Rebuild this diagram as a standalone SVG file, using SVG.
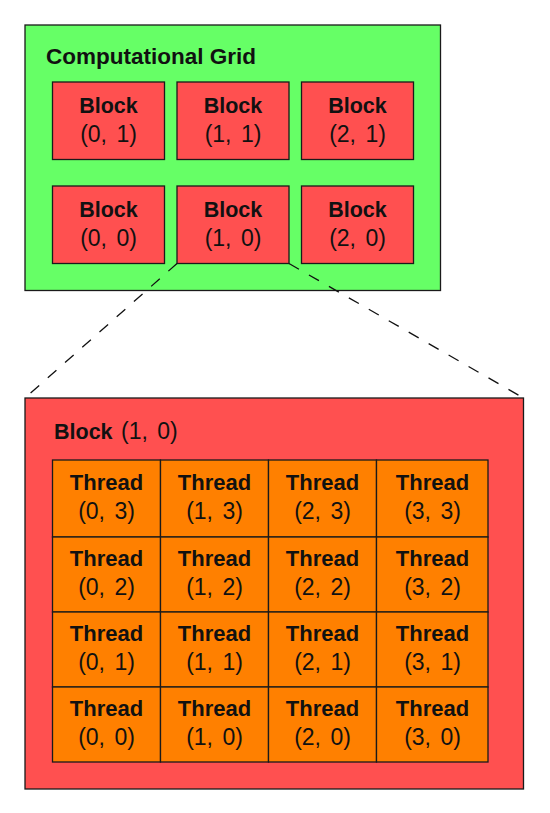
<svg xmlns="http://www.w3.org/2000/svg" width="550" height="813" viewBox="0 0 550 813">
<style>
.box{stroke:#1a1a1a;stroke-width:1.3}
.grid{fill:#66ff66}
.blk{fill:#ff5050}
.thr{fill:#ff8000}
.b{font-family:"Liberation Sans",Arial,sans-serif;font-weight:bold;font-size:21.5px;fill:#111}
.t{font-size:22px}
.h{font-size:22.5px}
.c{font-family:"Liberation Sans",Arial,sans-serif;font-size:23px;word-spacing:3px;fill:#111}
.m{text-anchor:middle}
.dash{fill:none;stroke:#111;stroke-width:1.3;stroke-dasharray:11.5 11.5}
</style>
<rect width="550" height="813" fill="#ffffff"/>
<g id="grid">
<rect class="box grid" x="25" y="25" width="415.5" height="265.5"/>
<text class="b h" x="46" y="64">Computational Grid</text>
</g>
<g id="block-0-1"><rect class="box blk" x="52.5" y="82" width="112" height="77.5"/><text class="b m" x="108.5" y="112.5">Block</text><text class="c m" x="108.5" y="141.5">(0, 1)</text></g>
<g id="block-1-1"><rect class="box blk" x="177" y="82" width="112" height="77.5"/><text class="b m" x="233" y="112.5">Block</text><text class="c m" x="233" y="141.5">(1, 1)</text></g>
<g id="block-2-1"><rect class="box blk" x="301.5" y="82" width="112" height="77.5"/><text class="b m" x="357.5" y="112.5">Block</text><text class="c m" x="357.5" y="141.5">(2, 1)</text></g>
<g id="block-0-0"><rect class="box blk" x="52.5" y="186" width="112" height="77.5"/><text class="b m" x="108.5" y="216.5">Block</text><text class="c m" x="108.5" y="245.5">(0, 0)</text></g>
<g id="block-1-0"><rect class="box blk" x="177" y="186" width="112" height="77.5"/><text class="b m" x="233" y="216.5">Block</text><text class="c m" x="233" y="245.5">(1, 0)</text></g>
<g id="block-2-0"><rect class="box blk" x="301.5" y="186" width="112" height="77.5"/><text class="b m" x="357.5" y="216.5">Block</text><text class="c m" x="357.5" y="245.5">(2, 0)</text></g>
<g id="connectors">
<line class="dash" x1="177" y1="263.5" x2="25" y2="398"/>
<line class="dash" x1="289" y1="263.5" x2="523.5" y2="398"/>
</g>
<g id="block-detail">
<rect class="box blk" x="25" y="398" width="498.5" height="391"/>
<text class="b" x="54" y="439">Block</text><text class="c" x="121" y="439">(1, 0)</text>
</g>
<g id="threads">
<g id="thread-0-3"><rect class="box thr" x="52.5" y="460" width="108" height="77"/><text class="b t m" x="106.5" y="490">Thread</text><text class="c m" x="106.5" y="519">(0, 3)</text></g>
<g id="thread-1-3"><rect class="box thr" x="160.5" y="460" width="108" height="77"/><text class="b t m" x="214.5" y="490">Thread</text><text class="c m" x="214.5" y="519">(1, 3)</text></g>
<g id="thread-2-3"><rect class="box thr" x="268.5" y="460" width="108" height="77"/><text class="b t m" x="322.5" y="490">Thread</text><text class="c m" x="322.5" y="519">(2, 3)</text></g>
<g id="thread-3-3"><rect class="box thr" x="376.5" y="460" width="111.5" height="77"/><text class="b t m" x="432.5" y="490">Thread</text><text class="c m" x="432.5" y="519">(3, 3)</text></g>
<g id="thread-0-2"><rect class="box thr" x="52.5" y="537" width="108" height="75"/><text class="b t m" x="106.5" y="565.5">Thread</text><text class="c m" x="106.5" y="595">(0, 2)</text></g>
<g id="thread-1-2"><rect class="box thr" x="160.5" y="537" width="108" height="75"/><text class="b t m" x="214.5" y="565.5">Thread</text><text class="c m" x="214.5" y="595">(1, 2)</text></g>
<g id="thread-2-2"><rect class="box thr" x="268.5" y="537" width="108" height="75"/><text class="b t m" x="322.5" y="565.5">Thread</text><text class="c m" x="322.5" y="595">(2, 2)</text></g>
<g id="thread-3-2"><rect class="box thr" x="376.5" y="537" width="111.5" height="75"/><text class="b t m" x="432.5" y="565.5">Thread</text><text class="c m" x="432.5" y="595">(3, 2)</text></g>
<g id="thread-0-1"><rect class="box thr" x="52.5" y="612" width="108" height="75"/><text class="b t m" x="106.5" y="640.5">Thread</text><text class="c m" x="106.5" y="670">(0, 1)</text></g>
<g id="thread-1-1"><rect class="box thr" x="160.5" y="612" width="108" height="75"/><text class="b t m" x="214.5" y="640.5">Thread</text><text class="c m" x="214.5" y="670">(1, 1)</text></g>
<g id="thread-2-1"><rect class="box thr" x="268.5" y="612" width="108" height="75"/><text class="b t m" x="322.5" y="640.5">Thread</text><text class="c m" x="322.5" y="670">(2, 1)</text></g>
<g id="thread-3-1"><rect class="box thr" x="376.5" y="612" width="111.5" height="75"/><text class="b t m" x="432.5" y="640.5">Thread</text><text class="c m" x="432.5" y="670">(3, 1)</text></g>
<g id="thread-0-0"><rect class="box thr" x="52.5" y="687" width="108" height="75"/><text class="b t m" x="106.5" y="715.5">Thread</text><text class="c m" x="106.5" y="745">(0, 0)</text></g>
<g id="thread-1-0"><rect class="box thr" x="160.5" y="687" width="108" height="75"/><text class="b t m" x="214.5" y="715.5">Thread</text><text class="c m" x="214.5" y="745">(1, 0)</text></g>
<g id="thread-2-0"><rect class="box thr" x="268.5" y="687" width="108" height="75"/><text class="b t m" x="322.5" y="715.5">Thread</text><text class="c m" x="322.5" y="745">(2, 0)</text></g>
<g id="thread-3-0"><rect class="box thr" x="376.5" y="687" width="111.5" height="75"/><text class="b t m" x="432.5" y="715.5">Thread</text><text class="c m" x="432.5" y="745">(3, 0)</text></g>
</g>
</svg>
